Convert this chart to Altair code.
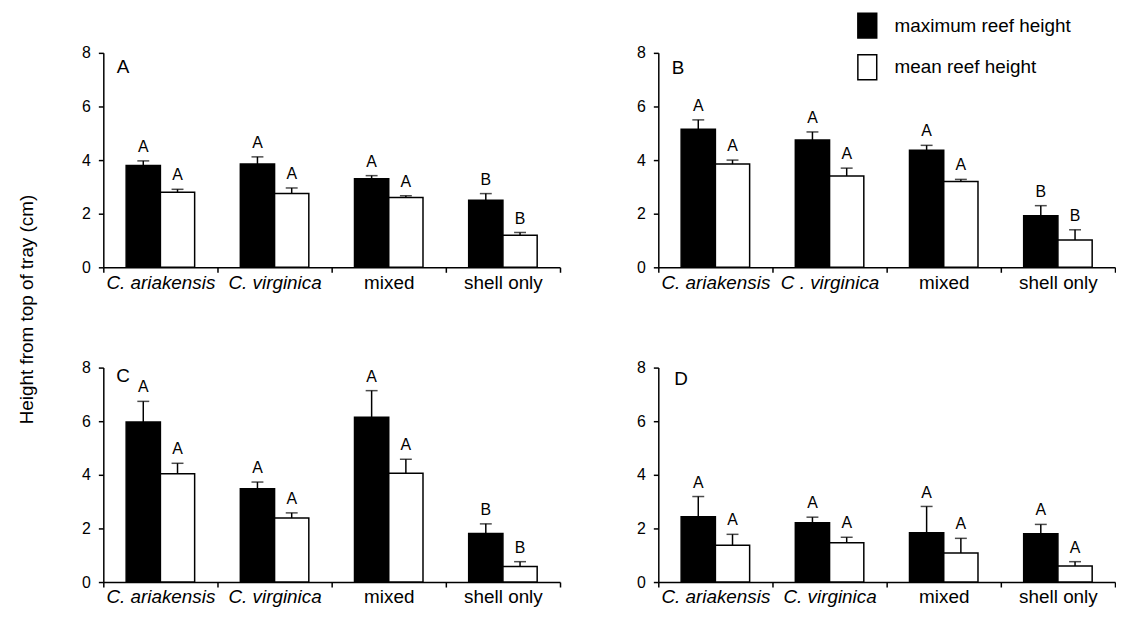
import altair as alt
import pandas as pd

FONT = "Liberation Sans"

categories = ["C. ariakensis", "C. virginica", "mixed", "shell only"]
series = ["maximum reef height", "mean reef height"]
panels = ["A", "B", "C", "D"]

# bar heights (cm) and upper ends of the error bars
max_A = [3.80, 3.85, 3.30, 2.50]
max_A_up = [3.97, 4.12, 3.42, 2.75]
mean_A = [2.80, 2.75, 2.60, 1.20]
mean_A_up = [2.91, 2.96, 2.67, 1.30]
let_max_A = ["A", "A", "A", "B"]
let_mean_A = ["A", "A", "A", "B"]

max_B = [5.15, 4.75, 4.37, 1.92]
max_B_up = [5.50, 5.05, 4.55, 2.30]
mean_B = [3.85, 3.41, 3.20, 1.02]
mean_B_up = [4.00, 3.70, 3.28, 1.40]
let_max_B = ["A", "A", "A", "B"]
let_mean_B = ["A", "A", "A", "B"]

max_C = [5.97, 3.48, 6.15, 1.81]
max_C_up = [6.74, 3.73, 7.14, 2.17]
mean_C = [4.04, 2.39, 4.06, 0.58]
mean_C_up = [4.43, 2.58, 4.58, 0.76]
let_max_C = ["A", "A", "A", "B"]
let_mean_C = ["A", "A", "A", "B"]

max_D = [2.44, 2.21, 1.84, 1.80]
max_D_up = [3.19, 2.42, 2.82, 2.15]
mean_D = [1.37, 1.47, 1.08, 0.60]
mean_D_up = [1.78, 1.67, 1.63, 0.76]
let_max_D = ["A", "A", "A", "A"]
let_mean_D = ["A", "A", "A", "A"]

panel_data = {
    "A": (max_A, max_A_up, let_max_A, mean_A, mean_A_up, let_mean_A),
    "B": (max_B, max_B_up, let_max_B, mean_B, mean_B_up, let_mean_B),
    "C": (max_C, max_C_up, let_max_C, mean_C, mean_C_up, let_mean_C),
    "D": (max_D, max_D_up, let_max_D, mean_D, mean_D_up, let_mean_D),
}

rows = []
for p in panels:
    mx, mxu, mxl, mn, mnu, mnl = panel_data[p]
    for i, c in enumerate(categories):
        rows.append(dict(panel=p, cat=c, series=series[0], value=mx[i], upper=mxu[i], letter=mxl[i]))
        rows.append(dict(panel=p, cat=c, series=series[1], value=mn[i], upper=mnu[i], letter=mnl[i]))
df = pd.DataFrame(rows)

tag_pos = {"A": (20, 14), "B": (20, 15), "C": (20, 9), "D": (23, 12)}


def panel(p):
    d = df[df.panel == p]
    label_expr = "datum.label"
    if p == "B":
        label_expr = "datum.label == 'C. virginica' ? 'C . virginica' : datum.label"
    x_axis = alt.Axis(
        title=None, tickBand="extent", labelAngle=0, labelFontSize=19, labelFont=FONT,
        labelColor="black", labelPadding=1, tickSize=5, tickWidth=1.5, tickColor="black",
        domainColor="black", domainWidth=1.5, labelExpr=label_expr,
        labelFontStyle={"condition": {"test": "isString(datum.value) && indexof(datum.value, 'C.') == 0",
                                      "value": "italic"},
                        "value": "normal"},
    )
    y_axis = alt.Axis(
        values=[0, 2, 4, 6, 8], grid=False, tickSize=5, tickWidth=1.5, tickColor="black",
        domainColor="black", domainWidth=1.5, labelFontSize=16, labelFont=FONT,
        labelColor="black", labelPadding=8, title=None,
    )
    if p == "B":
        legend = alt.Legend(
            title=None, orient="none", legendX=197, legendY=-41,
            symbolType="M-0.76,-1H0.76V1H-0.76Z", symbolSize=625,
            symbolStrokeColor="black", symbolStrokeWidth=1.5, symbolOpacity=1,
            labelFontSize=19, labelFont=FONT, labelColor="black", labelOffset=14,
            labelLimit=400, rowPadding=11,
        )
    else:
        legend = None

    y_scale = alt.Scale(domain=[0, 8], nice=False)
    base = alt.Chart(d).encode(
        x=alt.X("cat:N", sort=categories,
                scale=alt.Scale(domain=categories, paddingInner=0, paddingOuter=0),
                axis=x_axis),
        xOffset=alt.XOffset("series:N", sort=series,
                            scale=alt.Scale(domain=series, paddingInner=0, paddingOuter=0.667)),
    )
    bars = base.mark_bar(stroke="black", strokeWidth=1.5).encode(
        y=alt.Y("value:Q", scale=y_scale, axis=y_axis),
        fill=alt.Fill("series:N", scale=alt.Scale(domain=series, range=["black", "white"]),
                      legend=legend),
    )
    rules = base.mark_rule(color="black", strokeWidth=1.5).encode(
        y=alt.Y("value:Q", scale=y_scale), y2="upper:Q")
    caps = base.mark_tick(color="black", thickness=1.5, size=12, orient="horizontal").encode(
        y=alt.Y("upper:Q", scale=y_scale))
    letters = base.mark_text(fontSize=16, font=FONT, color="black", baseline="alphabetic",
                             dy=-9).encode(y=alt.Y("upper:Q", scale=y_scale), text="letter:N")
    tx, ty = tag_pos[p]
    tag = alt.Chart(pd.DataFrame({"t": [p]})).mark_text(
        fontSize=19, font=FONT, color="black", align="center", baseline="middle"
    ).encode(x=alt.value(tx), y=alt.value(ty), text="t:N")
    return alt.layer(bars, rules, caps, letters, tag).properties(width=460, height=216)


chart = alt.concat(
    *[panel(p) for p in panels], columns=2,
    spacing={"row": 68, "column": 76},
).resolve_scale(
    fill="independent", x="independent", y="independent", xOffset="independent"
).resolve_legend(fill="independent").properties(
    title=alt.TitleParams(
        "Height from top of tray (cm)", orient="left", anchor="middle", font=FONT,
        fontSize=19, fontWeight="normal", color="black", offset=45,
    ),
    padding={"left": 10, "top": 2, "right": 0, "bottom": 5},
).configure_view(stroke=None)

chart.save("out.html", embed_options={"renderer": "svg", "actions": False})
